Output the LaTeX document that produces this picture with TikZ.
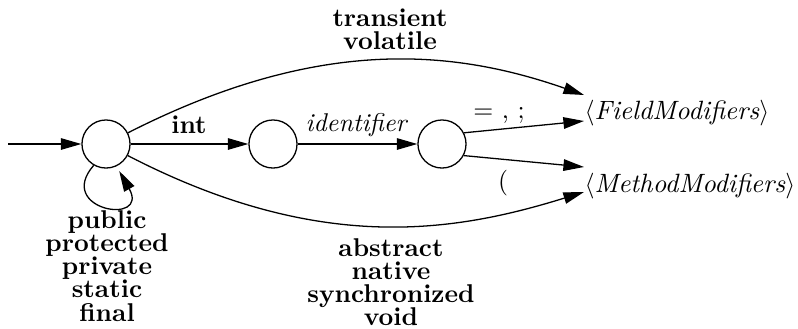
\documentclass[tikz,border=0pt]{standalone}
\usetikzlibrary{arrows.meta,calc}
\begin{document}
\begin{tikzpicture}[x=0.389pt,y=-0.389pt,
  state/.style={circle,draw,line width=0.5pt,minimum size=18.7pt,inner sep=0pt},
  arr/.style={-{Triangle[length=8pt,width=4.5pt]},line width=0.5pt},
  lab/.style={inner sep=0pt,align=center,font=\fontsize{10pt}{9pt}\selectfont\bfseries},
  txt/.style={inner sep=0pt},
  target/.style={inner sep=0pt,anchor=west,font=\fontsize{10.3pt}{12pt}\selectfont}]
\useasboundingbox (0,0) rectangle (798,328);
\coordinate (s) at (8,144);
\node[state] (c1) at (106,144) {};
\node[state] (c2) at (273,144) {};
\node[state] (c3) at (442,144) {};
\node[target] (F) at (584,113) {$\langle$\textit{FieldModifiers}$\rangle$};
\node[target] (M) at (584,186) {$\langle$\textit{MethodModifiers}$\rangle$};
% labels
\node[lab] (ltop) at (390,29) {transient\\volatile};
\node[lab] (lbot) at (391,282) {abstract\\native\\synchronized\\void};
\node[lab] (lloop) at (107,266) {public\\protected\\private\\static\\final};
\node[txt,font=\bfseries] (lint) at (189,125) {int};
\node[txt] (lid) at (357,125) {\textit{identifier}};
\node[txt] (leq) at (499,115) {$=$ , ;};
\node[txt] (lpar) at (503,183) {(};
% connectors
\draw[arr] (s) -- (c1.west);
\draw[arr] (c1.east) -- (c2.west);
\draw[arr] (c2.east) -- (c3.west);
\draw[arr] (c1.-120) .. controls +(-39,45) and +(31,55) .. ($(c1.-63)+(2,5)$);
\draw[arr] (c1.27) .. controls (320,35) and (455,50) .. ($(F.west)+(0,-18)$);
\draw[arr] (c1.-28) .. controls (320,255) and (455,232) .. ($(M.west)+(0,6)$);
\draw[arr] (c3.27) -- ($(F.west)+(0,8)$);
\draw[arr] (c3.-28) -- ($(M.west)+(0,-19)$);
\end{tikzpicture}
\end{document}
